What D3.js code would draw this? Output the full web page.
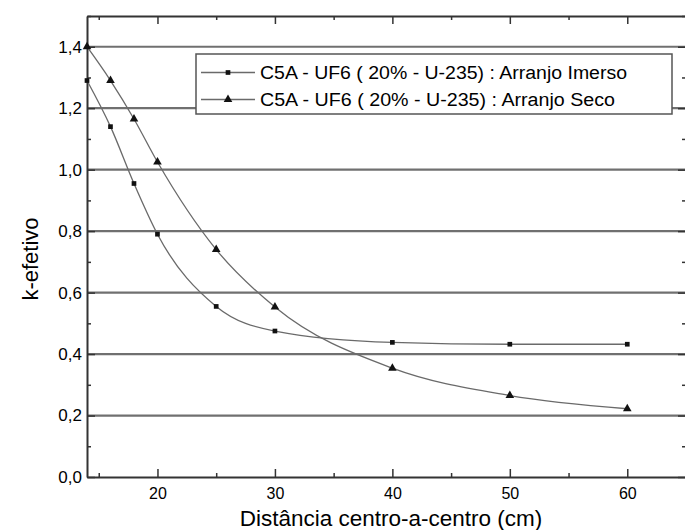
<!DOCTYPE html>
<html>
<head>
<meta charset="utf-8">
<script src="https://cdn.jsdelivr.net/npm/d3@7"></script>
<style>
  html, body { margin: 0; padding: 0; background: #fff; }
  svg { display: block; }
  text { font-family: "Liberation Sans", Arial, sans-serif; fill: #000; }
</style>
</head>
<body>
<svg id="chart" width="685" height="530"></svg>
<script>
// ---- data ----
const distances = [14, 16, 18, 20, 25, 30, 40, 50, 60];
const imersoValues = [1.29, 1.14, 0.955, 0.79, 0.555, 0.475, 0.438, 0.432, 0.432];
const secoValues = [1.40, 1.29, 1.165, 1.025, 0.74, 0.553, 0.354, 0.265, 0.222];
const seriesNames = [
  "C5A - UF6 ( 20% - U-235) : Arranjo Imerso",
  "C5A - UF6 ( 20% - U-235) : Arranjo Seco"
];
const xMajorTicks = [20, 30, 40, 50, 60];
const xMinorTicks = [15, 25, 35, 45, 55, 65];
const yMajorTicks = [0, 0.2, 0.4, 0.6, 0.8, 1.0, 1.2, 1.4];
const yMinorTicks = [0.1, 0.3, 0.5, 0.7, 0.9, 1.1, 1.3, 1.5];
const gridValues = [0.2, 0.4, 0.6, 0.8, 1.0, 1.2, 1.4];
const xTitle = "Distância centro-a-centro (cm)";
const yTitle = "k-efetivo";

// ---- layout ----
const L = 87, R = 686, T = 16, B = 477;
const svg = d3.select("#chart");
const x = d3.scaleLinear().domain([14, 65]).range([L, R]);
const y = d3.scaleLinear().domain([0, 1.5]).range([B, T]);
const fmt = d => d3.format(".1f")(d).replace(".", ",");

// gridlines
svg.append("g").selectAll("line").data(gridValues).join("line")
  .attr("x1", L).attr("x2", 685)
  .attr("y1", d => y(d)).attr("y2", d => y(d))
  .attr("stroke", "#707070").attr("stroke-width", 2.2);

// axes with inward ticks
const axisStyle = g => {
  g.select(".domain").attr("stroke", "#333").attr("stroke-width", 2);
  g.selectAll(".tick line").attr("stroke", "#333").attr("stroke-width", 1.5);
};
// bottom
svg.append("g").attr("transform", `translate(0,${B})`)
  .call(d3.axisBottom(x).tickValues(xMajorTicks).tickSizeInner(-8).tickSizeOuter(0).tickPadding(11).tickFormat(d3.format("d")))
  .call(axisStyle)
  .call(g => g.selectAll("text").attr("font-size", 16).attr("fill", "#111"));
svg.append("g").attr("transform", `translate(0,${B})`)
  .call(d3.axisBottom(x).tickValues(xMinorTicks).tickSizeInner(-4).tickSizeOuter(0).tickFormat(""))
  .call(axisStyle).call(g => g.select(".domain").remove());
// top
svg.append("g").attr("transform", `translate(0,${T})`)
  .call(d3.axisTop(x).tickValues(xMajorTicks).tickSizeInner(-8).tickSizeOuter(0).tickFormat(""))
  .call(axisStyle);
svg.append("g").attr("transform", `translate(0,${T})`)
  .call(d3.axisTop(x).tickValues(xMinorTicks).tickSizeInner(-4).tickSizeOuter(0).tickFormat(""))
  .call(axisStyle).call(g => g.select(".domain").remove());
// left
svg.append("g").attr("transform", `translate(${L},0)`)
  .call(d3.axisLeft(y).tickValues(yMajorTicks).tickSizeInner(-8).tickSizeOuter(0).tickPadding(5).tickFormat(fmt))
  .call(axisStyle)
  .call(g => g.selectAll("text").attr("font-size", 17).attr("fill", "#111"));
svg.append("g").attr("transform", `translate(${L},0)`)
  .call(d3.axisLeft(y).tickValues(yMinorTicks).tickSizeInner(-4).tickSizeOuter(0).tickFormat(""))
  .call(axisStyle).call(g => g.select(".domain").remove());
// right
svg.append("g").attr("transform", `translate(${R},0)`)
  .call(d3.axisRight(y).tickValues(yMajorTicks).tickSizeInner(-8).tickSizeOuter(0).tickFormat(""))
  .call(axisStyle);
svg.append("g").attr("transform", `translate(${R},0)`)
  .call(d3.axisRight(y).tickValues(yMinorTicks).tickSizeInner(-4).tickSizeOuter(0).tickFormat(""))
  .call(axisStyle).call(g => g.select(".domain").remove());

// curves
const line = d3.line().x(d => x(d[0])).y(d => y(d[1])).curve(d3.curveMonotoneX);
const imerso = distances.map((d, i) => [d, imersoValues[i]]);
const seco = distances.map((d, i) => [d, secoValues[i]]);
[imerso, seco].forEach(s => {
  svg.append("path").datum(s).attr("d", line)
    .attr("fill", "none").attr("stroke", "#6a6a6a").attr("stroke-width", 1.3);
});
const sq = d3.symbol().type(d3.symbolSquare).size(22);
const tri = d3.symbol().type(d3.symbolTriangle).size(32);
svg.append("g").selectAll("path").data(imerso).join("path")
  .attr("d", sq).attr("transform", d => `translate(${x(d[0])},${y(d[1])})`).attr("fill", "#111");
svg.append("g").selectAll("path").data(seco).join("path")
  .attr("d", tri).attr("transform", d => `translate(${x(d[0])},${y(d[1])})`).attr("fill", "#111");

// legend
const lg = svg.append("g");
lg.append("rect").attr("x", 196).attr("y", 54).attr("width", 476).attr("height", 60)
  .attr("fill", "#fff").attr("stroke", "#555").attr("stroke-width", 1.5);
const rows = [72.5, 99.5];
const syms = [sq, tri];
rows.forEach((ry, i) => {
  lg.append("line").attr("x1", 201).attr("x2", 255).attr("y1", ry).attr("y2", ry)
    .attr("stroke", "#6a6a6a").attr("stroke-width", 1.3);
  lg.append("path").attr("d", syms[i]).attr("transform", `translate(228,${ry})`).attr("fill", "#111");
  lg.append("text").attr("x", 260).attr("y", ry + 6.5).attr("font-size", 18)
    .attr("textLength", i === 0 ? 367 : 355).attr("lengthAdjust", "spacingAndGlyphs")
    .text(seriesNames[i]);
});

// titles
svg.append("text").attr("x", 391).attr("y", 526).attr("text-anchor", "middle")
  .attr("font-size", 22.5).text(xTitle);
svg.append("text").attr("transform", "translate(38,259) rotate(-90)")
  .attr("text-anchor", "middle").attr("font-size", 22).text(yTitle);
</script>
</body>
</html>
